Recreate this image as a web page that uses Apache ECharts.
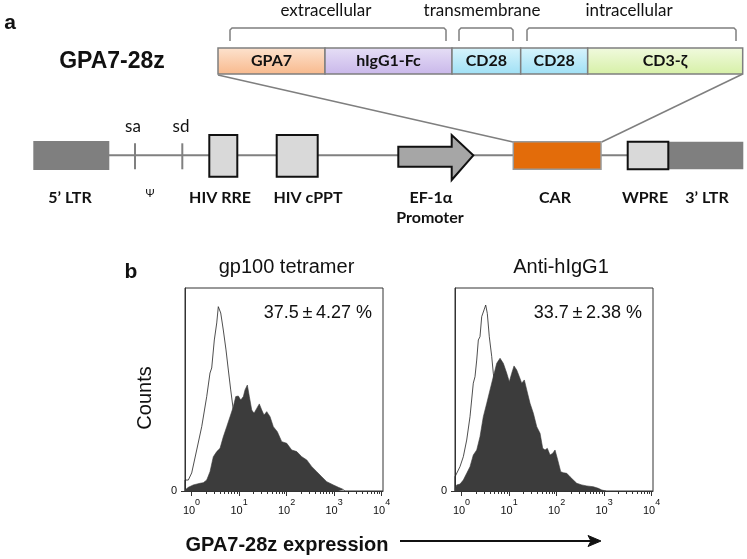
<!DOCTYPE html>
<html><head><meta charset="utf-8">
<script src="https://cdn.jsdelivr.net/npm/echarts@6/dist/echarts.min.js"></script>
<style>html,body{margin:0;padding:0;background:#fff}#c{width:747px;height:559px}</style>
</head><body><div id="c"></div>
<script>
// x values in decades (log10 of fluorescence), y in % of the plot height
const tickDecades = [0, 1, 2, 3, 4];
const plotTitles = ['gp100 tetramer', 'Anti-hIgG1'];
const percentLabels = ['37.5\u2009\u00B1\u20094.27 %', '33.7\u2009\u00B1\u20092.38 %'];

const gp100Control = [[-0.137,0],[-0.137,5.4],[-0.067,5.4],[0.004,8.9],[0.109,20.2],[0.215,31.7],[0.32,46.5],[0.389,58.1],[0.425,60.6],[0.48,74.4],[0.531,82.8],[0.564,90.8],[0.615,87.7],[0.669,79.3],[0.726,69.5],[0.775,59.6],[0.825,49.8],[0.88,39.9],[0.952,26.7],[1.057,13.8],[1.196,5.4],[1.373,2.1],[1.653,1.0],[2.0,0.3],[3.0,0]];
const gp100Stained = [[-0.137,0.5],[-0.067,1.8],[0.038,3.0],[0.179,3.8],[0.248,4.1],[0.32,5.4],[0.389,9.5],[0.459,16.9],[0.531,19.4],[0.6,21.0],[0.669,26.7],[0.741,31.7],[0.811,36.6],[0.88,41.5],[0.931,46.5],[0.985,46.8],[1.036,44.8],[1.091,46.5],[1.126,49.8],[1.175,52.2],[1.217,46.5],[1.267,39.9],[1.316,38.3],[1.373,40.7],[1.427,42.9],[1.478,39.9],[1.526,37.4],[1.583,39.1],[1.653,36.6],[1.722,31.7],[1.806,29.2],[1.899,24.3],[2.004,23.5],[2.109,20.2],[2.215,19.4],[2.32,16.9],[2.425,15.3],[2.531,12.0],[2.636,9.5],[2.741,7.0],[2.846,4.6],[2.985,3.0],[3.091,1.8],[3.196,0.8],[3.232,0]];
const antiControl = [[-0.137,0],[-0.137,7.0],[-0.101,7.9],[-0.032,12.0],[0.038,16.9],[0.109,25.1],[0.179,36.6],[0.248,53.1],[0.284,56.3],[0.32,64.5],[0.354,74.4],[0.389,76.0],[0.425,85.9],[0.474,89.2],[0.509,91.6],[0.543,87.5],[0.585,76.0],[0.636,66.2],[0.669,58.0],[0.741,44.8],[0.846,30.0],[0.985,16.9],[1.162,7.0],[1.442,2.1],[1.794,0.5],[2.5,0]];
const antiStained = [[-0.137,0.8],[-0.101,3.0],[-0.032,3.4],[0.038,5.4],[0.109,8.7],[0.179,12.0],[0.248,17.7],[0.32,20.2],[0.389,26.7],[0.459,36.6],[0.531,43.2],[0.6,49.8],[0.669,56.3],[0.741,62.9],[0.811,65.4],[0.88,62.9],[0.952,58.0],[1.006,53.8],[1.057,58.0],[1.105,61.6],[1.162,59.6],[1.217,56.3],[1.267,53.1],[1.322,54.7],[1.373,49.8],[1.442,43.2],[1.512,38.3],[1.583,31.7],[1.653,28.4],[1.709,21.0],[1.758,20.2],[1.806,21.0],[1.863,17.7],[1.92,18.6],[1.968,20.2],[2.025,15.3],[2.088,9.5],[2.143,9.0],[2.215,8.7],[2.284,7.0],[2.354,5.4],[2.425,3.8],[2.531,3.0],[2.636,2.5],[2.775,2.1],[2.88,1.3],[2.952,0.5],[3.04,0]];

const minorDecades = [];
for (let k = 0; k < 4; k++) for (let m = 2; m <= 9; m++) minorDecades.push(k + Math.log10(m));

const XMIN = -0.137, XMAX = 4.03;
const AR = 'Liberation Sans, Arial, sans-serif';
const CAL = 'Lato, Open Sans, sans-serif';

function xMajor(g) {
  return {gridIndex: g, type: 'value', min: XMIN, max: XMAX, position: 'bottom',
    axisLine: {show: true, onZero: false, lineStyle: {color: '#333', width: 1}},
    axisTick: {show: true, length: 5, customValues: tickDecades, lineStyle: {color: '#333', width: 1}},
    axisLabel: {customValues: tickDecades, margin: 5, color: '#111', fontFamily: AR,
      formatter: v => '{b|10}{s|' + v + '}',
      rich: {b: {fontSize: 11, fontFamily: AR, color: '#111', padding: [9, 0, 0, 0]},
             s: {fontSize: 9, fontFamily: AR, color: '#111', padding: [0, 0, 6, 0]}}},
    splitLine: {show: false}};
}
function xMinor(g) {
  return {gridIndex: g, type: 'value', min: XMIN, max: XMAX, position: 'bottom',
    axisLine: {show: false, onZero: false}, axisLabel: {show: false}, splitLine: {show: false},
    axisTick: {show: true, length: 3, customValues: minorDecades, lineStyle: {color: '#333', width: 1}}};
}
function yAx(g) {
  return {gridIndex: g, type: 'value', min: 0, max: 100, position: 'left',
    axisLine: {show: true, onZero: false, lineStyle: {color: '#333', width: 1}},
    axisTick: {show: true, length: 4, customValues: [0], lineStyle: {color: '#333'}},
    axisLabel: {customValues: [0], margin: 8, fontSize: 11, fontFamily: AR, color: '#111'},
    splitLine: {show: false}};
}
function ctrl(xi, yi, data) {
  return {type: 'line', xAxisIndex: xi, yAxisIndex: yi, data: data, showSymbol: false, symbol: 'none',
    lineStyle: {color: '#222', width: 0.8}, z: 2, silent: true, animation: false};
}
function filled(xi, yi, data) {
  return {type: 'line', xAxisIndex: xi, yAxisIndex: yi, data: data, showSymbol: false, symbol: 'none',
    lineStyle: {color: '#3c3c3c', width: 0.6}, areaStyle: {color: '#3c3c3c', opacity: 1}, z: 3, silent: true, animation: false};
}
function grad(top, bottom) {
  return {type: 'linear', x: 0, y: 0, x2: 0, y2: 1, colorStops: [{offset: 0, color: top}, {offset: 1, color: bottom}]};
}
function txt(x, y, text, font, align, extra) {
  return Object.assign({type: 'text', x: x, y: y, z: 10, style: {text: text, font: font, fill: '#111',
    textAlign: align || 'center', textVerticalAlign: 'middle'}}, extra || {});
}
const G = '#7f7f7f';
const graphics = [
  txt(10, 23, 'a', 'bold 21px ' + AR),
  txt(131, 272, 'b', 'bold 21px ' + AR),
  txt(112, 62, 'GPA7-28z', 'bold 23px ' + AR),
  // brackets
  {type: 'polyline', shape: {points: [[230, 41], [230, 30], [232, 28], [444, 28], [446, 30], [446, 41]]}, style: {stroke: G, lineWidth: 1.5, fill: null}},
  {type: 'polyline', shape: {points: [[459, 41], [459, 30], [461, 28], [511, 28], [513, 30], [513, 41]]}, style: {stroke: G, lineWidth: 1.5, fill: null}},
  {type: 'polyline', shape: {points: [[527, 41], [527, 30], [529, 28], [734, 28], [736, 30], [736, 41]]}, style: {stroke: G, lineWidth: 1.5, fill: null}},
  txt(326, 11, 'extracellular', '17px ' + CAL),
  txt(482, 11, 'transmembrane', '17px ' + CAL),
  txt(629, 11, 'intracellular', '17px ' + CAL),
  // construct segments
  {type: 'rect', shape: {x: 218, y: 48, width: 107, height: 26}, style: {fill: grad('#fde3cf', '#f8b98c'), stroke: G, lineWidth: 1.5}},
  {type: 'rect', shape: {x: 325, y: 48, width: 127, height: 26}, style: {fill: grad('#e6dff6', '#c9b7ea'), stroke: G, lineWidth: 1.5}},
  {type: 'rect', shape: {x: 452, y: 48, width: 68.7, height: 26}, style: {fill: grad('#d8f4fc', '#9fe0f5'), stroke: G, lineWidth: 1.5}},
  {type: 'rect', shape: {x: 520.7, y: 48, width: 67, height: 26}, style: {fill: grad('#d8f4fc', '#9fe0f5'), stroke: G, lineWidth: 1.5}},
  {type: 'rect', shape: {x: 587.7, y: 48, width: 155, height: 26}, style: {fill: grad('#f1fadf', '#d6f0a6'), stroke: G, lineWidth: 1.5}},
  txt(271.5, 61, 'GPA7', 'bold 16px ' + CAL),
  txt(388.5, 61, 'hIgG1-Fc', 'bold 16px ' + CAL),
  txt(486.4, 61, 'CD28', 'bold 16px ' + CAL),
  txt(554.2, 61, 'CD28', 'bold 16px ' + CAL),
  txt(665, 61, 'CD3-\u03B6', 'bold 16px ' + CAL),
  // zoom lines
  {type: 'line', shape: {x1: 218, y1: 75, x2: 513, y2: 142}, style: {stroke: G, lineWidth: 1.5}},
  {type: 'line', shape: {x1: 742.7, y1: 74, x2: 601.7, y2: 142}, style: {stroke: G, lineWidth: 1.5}},
  // backbone
  {type: 'line', shape: {x1: 40, y1: 155.3, x2: 740, y2: 155.3}, style: {stroke: '#808080', lineWidth: 2}},
  {type: 'rect', shape: {x: 33.3, y: 141, width: 76, height: 29}, style: {fill: '#7f7f7f'}},
  {type: 'line', shape: {x1: 135, y1: 143.3, x2: 135, y2: 169.3}, style: {stroke: '#808080', lineWidth: 2}},
  {type: 'line', shape: {x1: 182.3, y1: 143.3, x2: 182.3, y2: 169.3}, style: {stroke: '#808080', lineWidth: 2}},
  txt(133, 127, 'sa', '17px ' + CAL),
  txt(181, 127, 'sd', '17px ' + CAL),
  {type: 'rect', shape: {x: 209.3, y: 135, width: 28, height: 41.7}, style: {fill: '#d9d9d9', stroke: '#111', lineWidth: 2}},
  {type: 'rect', shape: {x: 276.7, y: 135, width: 41, height: 41.7}, style: {fill: '#d9d9d9', stroke: '#111', lineWidth: 2}},
  {type: 'polygon', shape: {points: [[398.3, 146.7], [451.7, 146.7], [451.7, 135], [473.3, 155.3], [451.7, 180], [451.7, 166.7], [398.3, 166.7]]}, style: {fill: '#a6a6a6', stroke: '#111', lineWidth: 2}},
  {type: 'rect', shape: {x: 513.3, y: 141.7, width: 87.7, height: 27.6}, style: {fill: '#e36c0a', stroke: '#999', lineWidth: 1.5}},
  {type: 'rect', shape: {x: 668.3, y: 141.7, width: 75, height: 27.6}, style: {fill: '#7f7f7f'}},
  {type: 'rect', shape: {x: 627.7, y: 141.7, width: 40.6, height: 27.6}, style: {fill: '#d9d9d9', stroke: '#111', lineWidth: 2}},
  txt(70, 198, '5\u2019 LTR', 'bold 16px ' + CAL),
  txt(150, 193, '\u03A8', '11px ' + CAL),
  txt(220, 198, 'HIV RRE', 'bold 16px ' + CAL),
  txt(308, 198, 'HIV cPPT', 'bold 16px ' + CAL),
  txt(431, 198, 'EF-1\u03B1', 'bold 16px ' + CAL),
  txt(430, 218, 'Promoter', 'bold 16px ' + CAL),
  txt(555, 198, 'CAR', 'bold 16px ' + CAL),
  txt(645, 198, 'WPRE', 'bold 16px ' + CAL),
  txt(707, 198, '3\u2019 LTR', 'bold 16px ' + CAL),
  // panel b texts
  txt(286.5, 267, plotTitles[0], '20px ' + AR),
  txt(561, 267, plotTitles[1], '20px ' + AR),
  txt(372, 313, percentLabels[0], '18px ' + AR, 'right'),
  txt(642, 313, percentLabels[1], '18px ' + AR, 'right'),
  txt(145, 398, 'Counts', '20px ' + AR, 'center', {rotation: Math.PI / 2}),
  txt(287, 545, 'GPA7-28z expression', 'bold 20px ' + AR),
  {type: 'line', shape: {x1: 400, y1: 541, x2: 596, y2: 541}, style: {stroke: '#111', lineWidth: 2}},
  {type: 'polygon', shape: {points: [[601, 541], [588, 535.5], [591, 541], [588, 546.5]]}, style: {fill: '#111', stroke: '#111', lineWidth: 1}}
];

const chart = echarts.init(document.getElementById('c'), null, {renderer: 'canvas'});
chart.setOption({
  animation: false,
  backgroundColor: '#fff',
  textStyle: {fontFamily: AR},
  grid: [
    {left: 185, top: 288, width: 198, height: 203, show: true, borderColor: '#333', borderWidth: 1, containLabel: false, outerBoundsMode: 'none'},
    {left: 455, top: 288, width: 198, height: 203, show: true, borderColor: '#333', borderWidth: 1, containLabel: false, outerBoundsMode: 'none'}
  ],
  xAxis: [xMajor(0), xMinor(0), xMajor(1), xMinor(1)],
  yAxis: [yAx(0), yAx(1)],
  series: [ctrl(0, 0, gp100Control), filled(0, 0, gp100Stained), ctrl(2, 1, antiControl), filled(2, 1, antiStained)],
  graphic: graphics
});
</script></body></html>
